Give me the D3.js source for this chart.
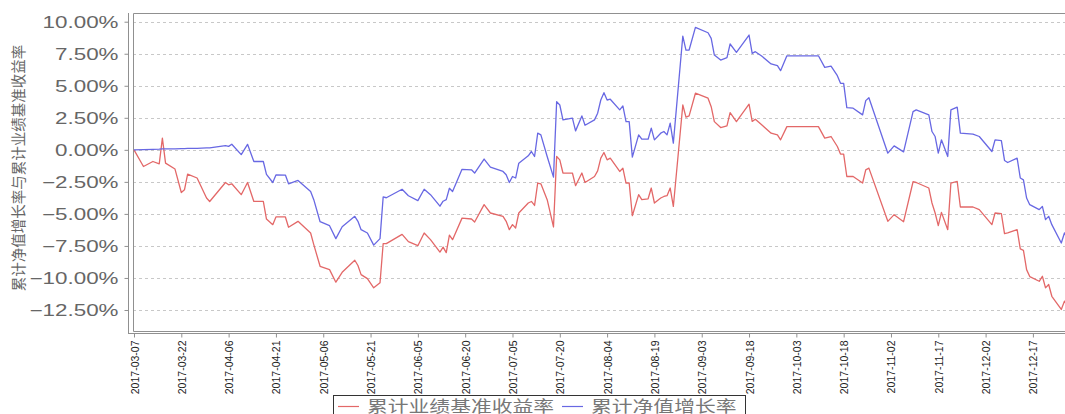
<!DOCTYPE html>
<html lang="zh">
<head>
<meta charset="UTF-8">
<title>累计净值增长率与累计业绩基准收益率</title>
<script src="https://d3js.org/d3.v7.min.js"></script>
<style>
body{margin:0; background:#fff; overflow:hidden;}
</style>
</head>
<body>
<div id="chart"></div>
<script>
// data (values in %)
var dates = ["2017-03-07","2017-03-10","2017-03-13","2017-03-15","2017-03-16","2017-03-17","2017-03-20","2017-03-22","2017-03-23","2017-03-24",
"2017-03-27","2017-03-30","2017-03-31","2017-04-05","2017-04-06","2017-04-07","2017-04-10","2017-04-12","2017-04-14","2017-04-17",
"2017-04-18","2017-04-20","2017-04-21","2017-04-24","2017-04-25","2017-04-28","2017-05-02","2017-05-03","2017-05-05","2017-05-08",
"2017-05-10","2017-05-12","2017-05-16","2017-05-17","2017-05-18","2017-05-20","2017-05-22","2017-05-24","2017-05-25","2017-05-26",
"2017-05-31","2017-06-02","2017-06-05","2017-06-07","2017-06-09","2017-06-12","2017-06-13","2017-06-14","2017-06-15","2017-06-16",
"2017-06-19","2017-06-22","2017-06-23","2017-06-26","2017-06-28","2017-07-02","2017-07-03","2017-07-04","2017-07-05","2017-07-06",
"2017-07-07","2017-07-10","2017-07-11","2017-07-12","2017-07-13","2017-07-14","2017-07-16","2017-07-18","2017-07-19","2017-07-20",
"2017-07-21","2017-07-24","2017-07-25","2017-07-27","2017-07-28","2017-07-31","2017-08-01","2017-08-02","2017-08-03","2017-08-04",
"2017-08-05","2017-08-08","2017-08-09","2017-08-10","2017-08-11","2017-08-12","2017-08-14","2017-08-15","2017-08-17","2017-08-18",
"2017-08-19","2017-08-21","2017-08-22","2017-08-23","2017-08-24","2017-08-25","2017-08-28","2017-08-29","2017-08-30","2017-09-01",
"2017-09-05","2017-09-06","2017-09-07","2017-09-09","2017-09-11","2017-09-12","2017-09-14","2017-09-18","2017-09-19","2017-09-20",
"2017-09-22","2017-09-25","2017-09-27","2017-09-28","2017-09-30","2017-10-10","2017-10-12","2017-10-14","2017-10-16","2017-10-17",
"2017-10-18","2017-10-19","2017-10-21","2017-10-24","2017-10-25","2017-10-26","2017-11-01","2017-11-03","2017-11-06","2017-11-09",
"2017-11-10","2017-11-14","2017-11-15","2017-11-16","2017-11-17","2017-11-18","2017-11-20","2017-11-21","2017-11-23","2017-11-24",
"2017-11-28","2017-11-30","2017-12-04","2017-12-05","2017-12-07","2017-12-08","2017-12-09","2017-12-12","2017-12-13","2017-12-14",
"2017-12-15","2017-12-16","2017-12-19","2017-12-20","2017-12-21","2017-12-22","2017-12-23","2017-12-26","2017-12-27","2017-12-28"];

// 累计业绩基准收益率 (red)
var benchmark = [0.00,-1.30,-0.91,-1.09,0.91,-1.04,-1.50,-3.33,-3.12,-1.89,
-2.20,-3.76,-4.03,-2.55,-2.73,-2.65,-3.50,-2.55,-4.03,-4.03,
-5.40,-5.84,-5.24,-5.24,-6.04,-5.58,-6.49,-7.40,-9.09,-9.35,
-10.33,-9.56,-8.62,-9.03,-9.74,-10.05,-10.77,-10.38,-7.32,-7.32,
-6.60,-7.17,-7.48,-6.49,-7.01,-7.98,-7.59,-8.02,-6.66,-7.01,
-5.33,-5.40,-5.63,-4.28,-4.93,-5.19,-5.58,-6.23,-5.84,-6.10,
-4.93,-4.15,-4.03,-4.34,-2.59,-2.65,-3.89,-6.02,-0.52,-0.78,
-1.81,-1.81,-2.80,-1.81,-2.55,-2.08,-1.64,-0.65,-0.21,-0.78,
-0.65,-1.69,-1.43,-2.59,-2.59,-5.14,-3.50,-3.89,-3.82,-2.98,
-4.15,-3.76,-3.64,-3.58,-2.98,-4.42,3.50,2.55,2.65,4.42,
4.03,3.37,2.20,1.74,1.87,2.90,2.20,3.56,2.22,2.39,
1.95,1.30,1.17,0.78,1.81,1.81,0.91,1.04,0.26,-0.33,
-0.33,-2.08,-2.08,-2.59,-1.56,-1.43,-5.58,-5.06,-5.61,-2.49,
-2.55,-2.98,-4.15,-4.93,-5.92,-4.88,-6.23,-2.59,-2.47,-4.46,
-4.46,-4.67,-5.84,-4.93,-4.98,-6.54,-6.49,-6.23,-7.73,-7.84,
-9.35,-9.89,-10.26,-9.87,-10.77,-10.51,-11.43,-12.46,-11.81,-12.20];

// 累计净值增长率 (blue)
var netValue = [0.00,0.02,0.04,0.05,0.08,0.08,0.08,0.09,0.10,0.11,
0.12,0.16,0.16,0.33,0.27,0.44,-0.37,0.43,-0.91,-0.91,
-1.91,-2.55,-1.96,-1.97,-2.65,-2.39,-3.25,-3.89,-5.61,-5.92,
-6.93,-6.00,-5.19,-5.58,-6.23,-6.49,-7.44,-6.93,-3.68,-3.74,
-3.08,-3.58,-3.96,-3.08,-3.50,-4.40,-4.01,-3.89,-3.00,-3.25,
-1.52,-1.56,-1.81,-0.72,-1.35,-1.69,-1.95,-2.55,-2.08,-2.20,
-1.04,-0.47,-0.13,-0.52,1.30,1.17,-0.52,-2.13,3.76,3.50,
2.34,2.47,1.48,2.65,1.92,2.34,2.86,3.89,4.46,3.89,
3.95,3.12,3.43,2.20,2.20,-0.57,1.17,0.83,0.83,1.69,
0.78,1.30,1.43,1.17,2.08,0.52,8.88,7.79,7.79,9.56,
9.14,8.70,7.40,7.01,7.19,8.26,7.61,8.96,7.53,7.66,
7.32,6.70,6.57,6.18,7.34,7.34,6.44,6.54,5.79,5.19,
5.19,3.29,3.25,2.73,3.84,4.07,-0.26,0.31,-0.16,2.98,
3.12,2.73,1.43,1.04,-0.26,0.78,-0.52,3.12,3.33,1.30,
1.22,1.04,-0.13,0.78,0.72,-0.83,-0.99,-0.65,-2.20,-2.34,
-3.76,-4.28,-4.67,-4.42,-5.45,-5.19,-5.84,-7.27,-6.49,-6.85];

var tickDates = ["2017-03-07","2017-03-22","2017-04-06","2017-04-21","2017-05-06","2017-05-21","2017-06-05",
"2017-06-20","2017-07-05","2017-07-20","2017-08-04","2017-08-19","2017-09-03","2017-09-18",
"2017-10-03","2017-10-18","2017-11-02","2017-11-17","2017-12-02","2017-12-17"];
var yTicks = [10, 7.5, 5, 2.5, 0, -2.5, -5, -7.5, -10, -12.5];

var seriesNames = ["累计业绩基准收益率", "累计净值增长率"];
var seriesColors = ["#e36868", "#6868e3"];
var yTitle = "累计净值增长率与累计业绩基准收益率";

var W = 1065, H = 414;
var plotLeft = 133, plotTop = 13, plotBottom = 331;
var parse = d3.timeParse("%Y-%m-%d");

var x = d3.scaleTime()
	.domain([parse("2017-03-07"), parse("2017-12-28")])
	.range([134, 1067.6]);
var y = d3.scaleLinear()
	.domain([-14.14, 10.68])
	.range([plotBottom, plotTop]);

var svg = d3.select("#chart").append("svg")
	.attr("width", W)
	.attr("height", H);

// grid
svg.append("g").selectAll("line")
	.data(yTicks)
	.enter()
	.append("line")
	.attr("x1", plotLeft)
	.attr("x2", W)
	.attr("y1", function(d){ return Math.round(y(d)) + 0.5; })
	.attr("y2", function(d){ return Math.round(y(d)) + 0.5; })
	.attr("stroke", "#c8c8c8")
	.attr("stroke-dasharray", "3,3");

// plot frame
svg.append("path")
	.attr("d", "M" + (W + 5) + "," + (plotTop + 0.5) + "H" + (plotLeft + 0.5) + "V" + (plotBottom + 0.5) + "H" + (W + 5))
	.attr("fill", "none")
	.attr("stroke", "#909090");

// y axis
var yAxis = d3.axisLeft(y)
	.tickValues(yTicks)
	.tickSize(4)
	.tickFormat(function(d){ return d3.format(".2f")(d) + "%"; });
var gy = svg.append("g")
	.attr("transform", "translate(128.5,0)")
	.call(yAxis);
gy.select(".domain").attr("stroke", "#909090").attr("d", "M0," + plotTop + "V" + (plotBottom + 3));
gy.selectAll(".tick line").attr("stroke", "#909090");
gy.selectAll(".tick text")
	.attr("x", null).attr("dy", null)
	.attr("transform", "translate(-10,6) scale(1.4,1)")
	.attr("font-family", "'Liberation Sans', Arial, sans-serif")
	.attr("font-size", "16px")
	.attr("fill", "#666");

// x axis
var xAxis = d3.axisBottom(x)
	.tickValues(tickDates.map(parse))
	.tickSize(4)
	.tickFormat(d3.timeFormat("%Y-%m-%d"));
var gx = svg.append("g")
	.attr("transform", "translate(0," + (plotBottom + 2.5) + ")")
	.call(xAxis);
gx.select(".domain").attr("stroke", "#909090").attr("d", "M" + (plotLeft - 5) + ",0H" + W);
gx.selectAll(".tick line").attr("stroke", "#909090");
gx.selectAll(".tick text")
	.attr("y", null).attr("dy", null)
	.attr("text-anchor", "end")
	.attr("transform", "translate(4,7) rotate(-90)")
	.attr("font-family", "'Liberation Sans', Arial, sans-serif")
	.attr("font-size", "10.5px")
	.attr("fill", "#222");

// y title
svg.append("text")
	.attr("transform", "translate(24,168) rotate(-90)")
	.attr("text-anchor", "middle")
	.attr("font-family", "'Noto Sans CJK SC', sans-serif")
	.attr("font-size", "14.5px")
	.attr("fill", "#666")
	.text(yTitle);

// lines
var series = [benchmark, netValue];
var line = d3.line()
	.x(function(d, i){ return x(parse(dates[i])); })
	.y(function(d){ return y(d); });

svg.append("g").selectAll("path")
	.data(series)
	.enter()
	.append("path")
	.attr("d", line)
	.attr("fill", "none")
	.attr("stroke", function(d, i){ return seriesColors[i]; })
	.attr("stroke-width", 1.3)
	.attr("stroke-linejoin", "round");

// legend
var lg = svg.append("g");
lg.append("rect")
	.attr("x", 333.5)
	.attr("y", 395.5)
	.attr("width", 412)
	.attr("height", 30)
	.attr("fill", "#fff")
	.attr("stroke", "#333");
var lx = [338, 562];
lg.selectAll("line")
	.data(seriesNames)
	.enter()
	.append("line")
	.attr("x1", function(d, i){ return lx[i]; })
	.attr("x2", function(d, i){ return lx[i] + 21; })
	.attr("y1", 406.5)
	.attr("y2", 406.5)
	.attr("stroke", function(d, i){ return seriesColors[i]; })
	.attr("stroke-width", 1.2);
lg.selectAll("text")
	.data(seriesNames)
	.enter()
	.append("text")
	.attr("transform", function(d, i){ return "translate(" + (lx[i] + 29) + ",412) scale(1.3,1)"; })
	.attr("font-family", "'Noto Sans CJK SC', sans-serif")
	.attr("font-size", "16px")
	.attr("fill", "#777")
	.text(function(d){ return d; });
</script>
</body>
</html>
